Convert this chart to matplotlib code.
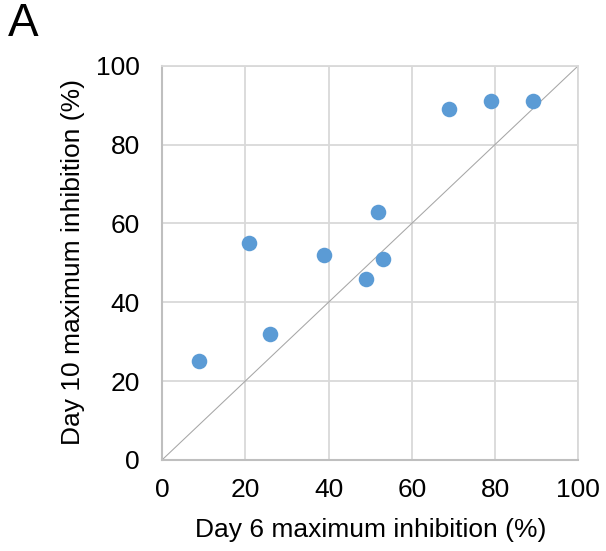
import matplotlib
matplotlib.use("Agg")
import matplotlib.pyplot as plt

plt.rcParams['font.family'] = ['Liberation Sans', 'DejaVu Sans']

# day 6 vs day 10 maximum inhibition (%)
day6 = [9, 21, 26, 39, 49, 52, 53, 69, 79, 89]
day10 = [25, 55, 32, 52, 46, 63, 51, 89, 91, 91]
ticks = [0, 20, 40, 60, 80, 100]

fig = plt.figure(figsize=(6.06, 5.51), dpi=100)
ax = fig.add_axes([0.2673, 0.1652, 0.687, 0.7156])

ax.plot([0, 100], [0, 100], color='#a6a6a6', linewidth=0.75, zorder=2)
ax.plot(day6, day10, linestyle='none', marker='o', markersize=11.2,
        color='#5b9bd5', markeredgewidth=0, zorder=3)

ax.set_xlim(0, 100)
ax.set_ylim(0, 100)
ax.set_xticks(ticks)
ax.set_yticks(ticks)
ax.grid(True, color='#d9d9d9', linewidth=1.3)
ax.set_axisbelow(True)
ax.tick_params(axis='both', length=0, labelsize=19, colors='black')
ax.tick_params(axis='x', pad=13)
ax.tick_params(axis='y', pad=16)

for side in ['top', 'right']:
    ax.spines[side].set_color('#d9d9d9')
    ax.spines[side].set_linewidth(1.3)
for side in ['left', 'bottom']:
    ax.spines[side].set_color('#bfbfbf')
    ax.spines[side].set_linewidth(1.5)

fig.text(371 / 606, 1 - 530 / 551, 'Day 6 maximum inhibition (%)',
         ha='center', va='center', fontsize=19)
fig.text(73 / 606, 1 - 262 / 551, 'Day 10 maximum inhibition (%)',
         ha='center', va='center', rotation=90, fontsize=19)
fig.text(23 / 606, 1 - 24 / 551, 'A', ha='center', va='center', fontsize=33)

fig.savefig('out.png', dpi=100)
